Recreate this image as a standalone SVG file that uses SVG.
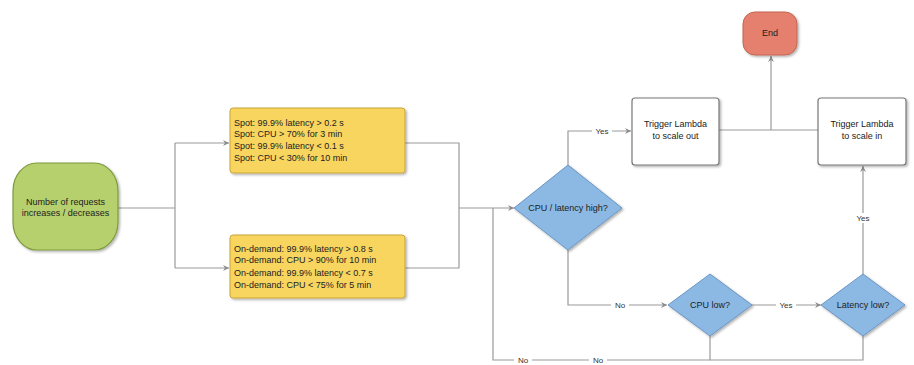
<svg xmlns="http://www.w3.org/2000/svg" width="914" height="365" viewBox="0 0 914 365">
<defs>
<marker id="arr" markerWidth="8" markerHeight="8" refX="7" refY="4" orient="auto" markerUnits="userSpaceOnUse">
<path d="M1,1 L7,4 L1,7 L3,4 Z" fill="#8a8a8a"/>
</marker>
<filter id="sh" x="-10%" y="-10%" width="130%" height="130%">
<feDropShadow dx="1.5" dy="1.5" stdDeviation="1" flood-color="#000" flood-opacity="0.3"/>
</filter>
</defs>
<style>
.ln{fill:none;stroke:#9a9a9a;stroke-width:1.2}
.t{font-family:"Liberation Sans",Arial,sans-serif;font-size:9px;fill:#222}
.c{text-anchor:middle}
.lbl{font-family:"Liberation Sans",Arial,sans-serif;font-size:8px;fill:#333;text-anchor:middle}
.bg{fill:#fff}
</style>
<rect width="914" height="365" fill="#fff"/>
<g id="connectors">
<path class="ln" d="M118,208 H175"/>
<path class="ln" d="M175,143 V268"/>
<path class="ln" d="M175,143 H229" marker-end="url(#arr)"/>
<path class="ln" d="M175,268 H229" marker-end="url(#arr)"/>
<path class="ln" d="M405,143 H459 V268 H405"/>
<path class="ln" d="M459,208 H514" marker-end="url(#arr)"/>
<path class="ln" d="M568,165 V131 H631" marker-end="url(#arr)"/>
<rect class="bg" x="592" y="126" width="20" height="10"/>
<text class="lbl" x="602" y="134">Yes</text>
<path class="ln" d="M568,250 V305 H667" marker-end="url(#arr)"/>
<rect class="bg" x="611" y="300" width="18" height="10"/>
<text class="lbl" x="620" y="308">No</text>
<path class="ln" d="M752,305 H821" marker-end="url(#arr)"/>
<rect class="bg" x="776" y="300" width="20" height="10"/>
<text class="lbl" x="786" y="308">Yes</text>
<path class="ln" d="M863,275 V166" marker-end="url(#arr)"/>
<rect class="bg" x="853" y="213" width="20" height="10"/>
<text class="lbl" x="863" y="221">Yes</text>
<path class="ln" d="M719,130 H818"/>
<path class="ln" d="M771,130 V56" marker-end="url(#arr)"/>
<path class="ln" d="M710,336 V360 H493 V208"/>
<path class="ln" d="M863,336 V360 H710"/>
<rect class="bg" x="514" y="355" width="18" height="10"/>
<text class="lbl" x="523" y="363">No</text>
<rect class="bg" x="589" y="355" width="18" height="10"/>
<text class="lbl" x="598" y="363">No</text>
</g>
<g id="start">
<rect x="13" y="163" width="105" height="87" rx="24" ry="28" fill="#b6d06e" stroke="#7f9a3c" stroke-width="1.2" filter="url(#sh)"/>
<text class="t c" x="65.5" y="205">Number of requests</text>
<text class="t c" x="65.5" y="216">increases / decreases</text>
</g>
<g id="spot">
<rect x="230" y="108" width="175" height="65" rx="3" fill="#f7d55f" stroke="#c9a53a" stroke-width="1" filter="url(#sh)"/>
<text class="t" x="234" y="126">Spot: 99.9% latency &gt; 0.2 s</text>
<text class="t" x="234" y="137">Spot: CPU &gt; 70% for 3 min</text>
<text class="t" x="234" y="149">Spot: 99.9% latency &lt; 0.1 s</text>
<text class="t" x="234" y="161">Spot: CPU &lt; 30% for 10 min</text>
</g>
<g id="ondemand">
<rect x="230" y="235" width="175" height="63" rx="3" fill="#f7d55f" stroke="#c9a53a" stroke-width="1" filter="url(#sh)"/>
<text class="t" x="234" y="252">On-demand: 99.9% latency &gt; 0.8 s</text>
<text class="t" x="234" y="263">On-demand: CPU &gt; 90% for 10 min</text>
<text class="t" x="234" y="276">On-demand: 99.9% latency &lt; 0.7 s</text>
<text class="t" x="234" y="288">On-demand: CPU &lt; 75% for 5 min</text>
</g>
<g id="high">
<polygon points="568,165 622,208 568,250 514,208" fill="#8bb9e3" stroke="#6a95c2" stroke-width="1" filter="url(#sh)"/>
<text class="t c" x="568" y="211">CPU / latency high?</text>
</g>
<g id="scaleout">
<rect x="632" y="98" width="87" height="67" rx="3" fill="#fff" stroke="#777" stroke-width="1.2" filter="url(#sh)"/>
<text class="t c" x="675.5" y="127">Trigger Lambda</text>
<text class="t c" x="675.5" y="139">to scale out</text>
</g>
<g id="scalein">
<rect x="818" y="98" width="88" height="67" rx="3" fill="#fff" stroke="#777" stroke-width="1.2" filter="url(#sh)"/>
<text class="t c" x="862" y="127">Trigger Lambda</text>
<text class="t c" x="862" y="139">to scale in</text>
</g>
<g id="end">
<rect x="743" y="12" width="54" height="43" rx="12" fill="#e5806e" stroke="#c4654f" stroke-width="1" filter="url(#sh)"/>
<text class="t c" x="770" y="36" font-size="8">End</text>
</g>
<g id="cpulow">
<polygon points="710,274 752,305 710,336 668,305" fill="#8bb9e3" stroke="#6a95c2" stroke-width="1" filter="url(#sh)"/>
<text class="t c" x="710" y="308">CPU low?</text>
</g>
<g id="latlow">
<polygon points="863,274 905,305 863,336 821,305" fill="#8bb9e3" stroke="#6a95c2" stroke-width="1" filter="url(#sh)"/>
<text class="t c" x="863" y="308">Latency low?</text>
</g>
</svg>
